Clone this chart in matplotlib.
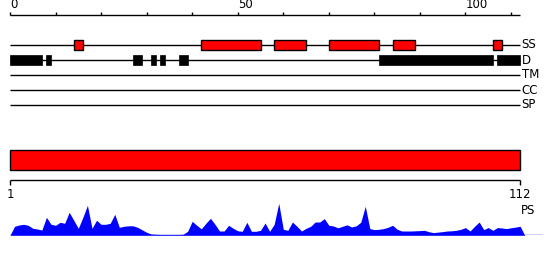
import matplotlib
matplotlib.use("Agg")
import matplotlib.pyplot as plt
from matplotlib.patches import Rectangle

# ---- data ----
seq_len = 112
ruler_ticks = list(range(0, 111, 10))
ruler_labels = {0: "0", 50: "50", 100: "100"}
track_names = ["SS", "D", "TM", "CC", "SP"]

# secondary structure segments (1-based residue ranges)
ss_start = [15, 43, 59, 71, 85, 107]
ss_end = [16, 55, 65, 81, 89, 108]

# disordered segments (1-based residue ranges)
dis_start = [1, 9, 28, 32, 34, 38, 82, 108]
dis_end = [7, 9, 29, 32, 34, 39, 106, 112]

# per-residue profile score (residues 1..112)
profile = [9, 10.3, 11, 10, 7, 6.3, 5.3, 18, 11, 10,
           13, 12, 23, 15, 7, 18, 30, 7, 15, 11,
           11, 12, 21, 8, 9, 9.5, 9.5, 8, 5.5, 3,
           1.3, 1, 0.8, 0.8, 0.8, 0.8, 0.8, 1, 4, 14,
           10, 6.5, 12, 17, 11, 4.3, 4.3, 10, 7, 4.5,
           4, 13, 4, 4, 5, 12.3, 4, 11, 32, 6,
           5, 13.3, 9, 4.3, 7, 9, 13.3, 13.3, 16.7, 10,
           9.3, 7.5, 9, 10.5, 8.3, 9.5, 13, 29, 6.7, 5.7,
           6, 6.7, 8, 10, 6, 4.3, 4.3, 4.3, 4.5, 4.7,
           5, 3.5, 2.7, 3.2, 3.7, 4.3, 4.5, 5, 6, 7.7,
           4.3, 9, 13.3, 5.7, 7.7, 5, 7.7, 7.3, 6.7, 7.5,
           8.2, 9]

# ---- layout (pixel-based) ----
W, H = 550, 260
px_per = 4.555
x0 = 10
fig = plt.figure(figsize=(W / 100, H / 100), dpi=100)
ax = fig.add_axes([0, 0, 1, 1])
xlim = (-x0 / px_per, (W - x0) / px_per)
ax.set_xlim(*xlim)
ax.set_ylim(H, 0)
ax.axis("off")

lw = 1.0
fs = 8.5
fam = "DejaVu Sans"

# top ruler
ry = 15
ax.plot([0, seq_len], [ry, ry], color="black", lw=lw, solid_capstyle="butt")
for t in ruler_ticks:
    ax.plot([t, t], [ry, ry - 3.5], color="black", lw=lw, solid_capstyle="butt")
for t, lab in ruler_labels.items():
    ax.text(t, ry - 3.5, lab, ha="left", va="bottom", fontsize=fs, family=fam)

# tracks
track_y = [45, 60, 75, 90, 105]
for name, y in zip(track_names, track_y):
    ax.plot([0, seq_len], [y, y], color="black", lw=lw, solid_capstyle="butt", zorder=1)
    ax.text(seq_len + 0.3, y, name, ha="left", va="center", fontsize=fs, family=fam)

for s, e in zip(ss_start, ss_end):
    ax.add_patch(Rectangle((s - 1, track_y[0] - 5), e - s + 1, 10,
                           facecolor="#ff0000", edgecolor="black", lw=lw, zorder=3))
for s, e in zip(dis_start, dis_end):
    ax.add_patch(Rectangle((s - 1, track_y[1] - 5.2), e - s + 1, 10.4,
                           facecolor="black", edgecolor="black", lw=0.5, zorder=3))

# full-length red bar
ax.add_patch(Rectangle((0, 150), seq_len, 20.3, facecolor="#ff0000",
                       edgecolor="black", lw=lw, zorder=3))

# second ruler
r2 = 180.3
ax.plot([0, seq_len], [r2, r2], color="black", lw=lw, solid_capstyle="butt")
for t in (0, seq_len):
    ax.plot([t, t], [r2, r2 + 4.5], color="black", lw=lw, solid_capstyle="butt")
ax.text(0.2, 195, "1", ha="center", va="center", fontsize=fs, family=fam)
ax.text(seq_len, 195, str(seq_len), ha="center", va="center", fontsize=fs, family=fam)
ax.text(seq_len + 0.2, 210.5, "PS", ha="left", va="center", fontsize=fs, family=fam)

# profile
base_px = 235.3
pax = fig.add_axes([0, (H - base_px) / H, 1, 40 / H])
pax.set_xlim(*xlim)
pax.set_ylim(0, 40)
pax.axis("off")
xs = [0] + list(range(1, seq_len + 1)) + [seq_len + 1]
ys = [0] + profile + [0]
pax.fill_between(xs, 0, ys, color="#0000ff", lw=0, antialiased=True)
pax.plot([0, (542 - x0) / px_per], [0.3, 0.3], color="#0000ff", lw=1.0)

fig.savefig("out.png", dpi=100)
